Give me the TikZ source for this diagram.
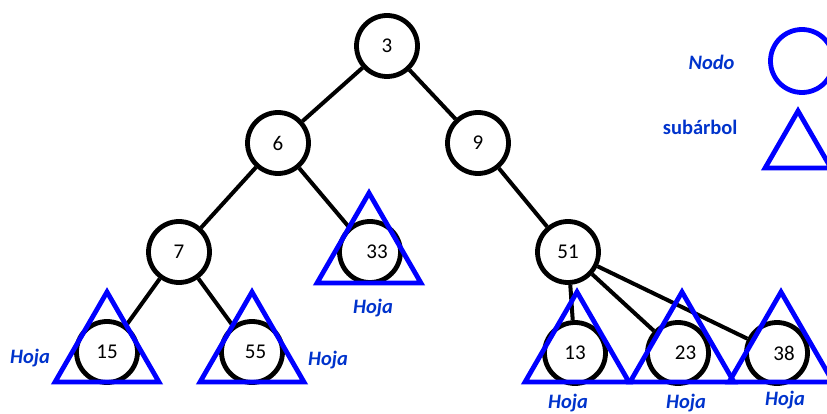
\documentclass[tikz,border=0pt]{standalone}
\usepackage{fontspec}
\setmainfont{Carlito}
\usetikzlibrary{shapes.geometric}
\definecolor{hojablue}{RGB}{0,51,204}
\definecolor{subblue}{RGB}{0,0,255}
\begin{document}
\begin{tikzpicture}[x=1pt,y=-1pt,
  nodo/.style={circle, draw, line width=4.8pt, fill=white, minimum size=61pt, inner sep=0pt, font=\fontsize{21}{24}\selectfont},
  sub/.style={regular polygon, regular polygon sides=3, draw=subblue, line width=4.8pt, minimum size=120pt, inner sep=0pt},
  lbl/.style={text=hojablue, font=\fontsize{20.5}{24}\selectfont\bfseries\itshape},
  arista/.style={line width=4pt}]
\useasboundingbox (0,0) rectangle (827,414);
\node[nodo] (n3) at (387,46){3};
\node[nodo] (n6) at (278,143){6};
\node[nodo] (n9) at (478,143){9};
\node[nodo] (n7) at (179,252){7};
\node[nodo] (n33) at (370,252){\hspace*{14pt}33};
\node[nodo] (n51) at (568,252){51};
\node[nodo] (n15) at (107,352){15};
\node[nodo] (n55) at (252,352){\hspace*{7pt}55};
\node[nodo] (n13) at (575,353){13};
\node[nodo] (n23) at (678,353){\hspace*{15pt}23};
\node[nodo] (n38) at (777,353){\hspace*{14pt}38};
\draw[arista](n3) -- (n6);
\draw[arista](n3) -- (n9);
\draw[arista](n6) -- (n7);
\draw[arista](n6) -- (n33);
\draw[arista](n9) -- (n51);
\draw[arista](n7) -- (n15);
\draw[arista](n7) -- (n55);
\draw[arista](n51) -- (n13);
\draw[arista](n51) -- (n23);
\draw[arista](n51) -- (n38);
% subarboles
\node[sub] (t15) at (107,352){};
\node[sub] (t55) at (252,352){};
\node[sub] (t33) at (369,253){};
\node[sub] (t13) at (577,352){};
\node[sub] (t23) at (682,352){};
\node[sub] (t38) at (781,352){};
\node[lbl] (h15) at (30,358){Hoja};
\node[lbl] (h55) at (328,360){Hoja};
\node[lbl] (h33) at (373,308){Hoja};
\node[lbl] (h13) at (568,403){Hoja};
\node[lbl] (h23) at (686,403){Hoja};
\node[lbl] (h38) at (785,400){Hoja};
% leyenda
\node[lbl, anchor=east] (lnodo) at (738,62){Nodo};
\node[lbl, anchor=east, font=\fontsize{20.5}{24}\selectfont\bfseries] (lsub) at (741,127){subárbol};
\node[nodo, draw=subblue, fill=none, minimum size=63pt] (legnodo) at (802,61){};
\node[sub, minimum size=76pt] (legsub) at (798,149){};
\end{tikzpicture}
\end{document}
